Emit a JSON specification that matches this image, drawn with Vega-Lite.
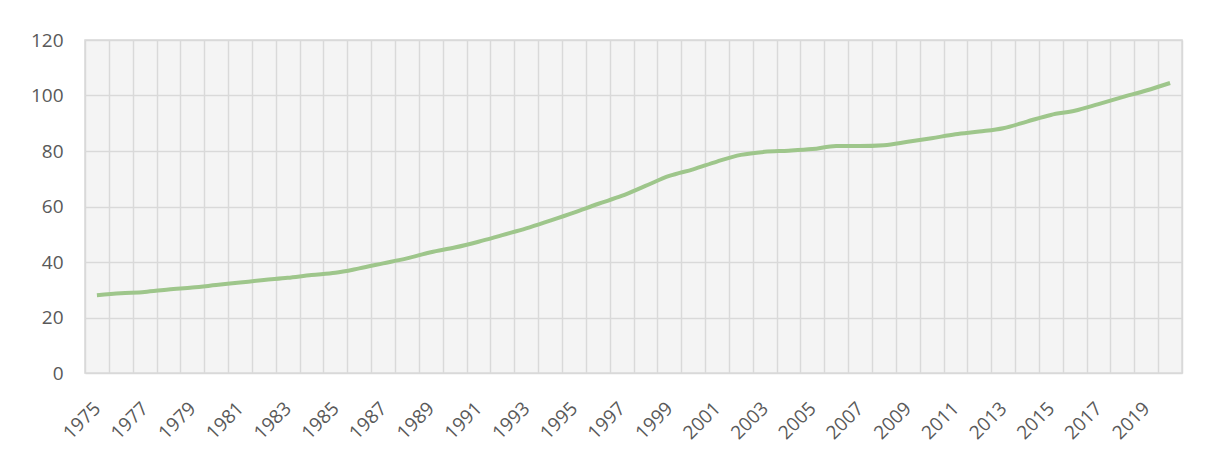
{
  "$schema": "https://vega.github.io/schema/vega-lite/v6.json",
  "width": 1097,
  "height": 333,
  "autosize": {"type": "none"},
  "padding": {"left": 85, "top": 40, "right": 26, "bottom": 80},
  "background": "white",
  "config": {
    "view": {"fill": "#f4f4f4", "stroke": "#d9d9d9", "strokeWidth": 1.5}
  },
  "data": {
    "values": [
      {"year": 1975, "value": 28.0},
      {"year": 1976, "value": 28.7},
      {"year": 1977, "value": 29.2},
      {"year": 1978, "value": 30.1},
      {"year": 1979, "value": 30.8},
      {"year": 1980, "value": 31.7},
      {"year": 1981, "value": 32.6},
      {"year": 1982, "value": 33.5},
      {"year": 1983, "value": 34.3},
      {"year": 1984, "value": 35.3},
      {"year": 1985, "value": 36.1},
      {"year": 1986, "value": 37.7},
      {"year": 1987, "value": 39.5},
      {"year": 1988, "value": 41.3},
      {"year": 1989, "value": 43.5},
      {"year": 1990, "value": 45.2},
      {"year": 1991, "value": 47.3},
      {"year": 1992, "value": 49.7},
      {"year": 1993, "value": 52.1},
      {"year": 1994, "value": 54.9},
      {"year": 1995, "value": 57.8},
      {"year": 1996, "value": 60.9},
      {"year": 1997, "value": 63.8},
      {"year": 1998, "value": 67.4},
      {"year": 1999, "value": 71.0},
      {"year": 2000, "value": 73.4},
      {"year": 2001, "value": 76.2},
      {"year": 2002, "value": 78.6},
      {"year": 2003, "value": 79.7},
      {"year": 2004, "value": 80.1},
      {"year": 2005, "value": 80.7},
      {"year": 2006, "value": 81.8},
      {"year": 2007, "value": 81.8},
      {"year": 2008, "value": 82.1},
      {"year": 2009, "value": 83.3},
      {"year": 2010, "value": 84.6},
      {"year": 2011, "value": 86.0},
      {"year": 2012, "value": 87.0},
      {"year": 2013, "value": 88.2},
      {"year": 2014, "value": 90.6},
      {"year": 2015, "value": 93.0},
      {"year": 2016, "value": 94.5},
      {"year": 2017, "value": 96.9},
      {"year": 2018, "value": 99.4},
      {"year": 2019, "value": 101.8},
      {"year": 2020, "value": 104.5}
    ]
  },
  "mark": {"type": "line", "color": "#9ec68b", "strokeWidth": 4, "interpolate": "monotone"},
  "encoding": {
    "x": {
      "field": "year",
      "type": "ordinal",
      "scale": {"type": "band", "paddingInner": 0, "paddingOuter": 0},
      "axis": {
        "title": null,
        "labelFont": "Open Sans",
        "labelFontSize": 19,
        "labelColor": "#595959",
        "gridColor": "#d9d9d9",
        "gridWidth": 1.5,
        "domain": false,
        "ticks": false,
        "labelAngle": -45,
        "labelAlign": "right",
        "labelBaseline": "middle",
        "labelPadding": 32,
        "labelOverlap": false,
        "tickBand": "extent",
        "grid": true,
        "labelExpr": "datum.value % 2 == 1 ? datum.label : ''"
      }
    },
    "y": {
      "field": "value",
      "type": "quantitative",
      "scale": {"domain": [0, 120], "nice": false},
      "axis": {
        "title": null,
        "labelFont": "Open Sans",
        "labelFontSize": 19,
        "labelColor": "#595959",
        "gridColor": "#d9d9d9",
        "gridWidth": 1.5,
        "domain": false,
        "ticks": false,
        "values": [0, 20, 40, 60, 80, 100, 120],
        "labelPadding": 22,
        "grid": true
      }
    }
  }
}
